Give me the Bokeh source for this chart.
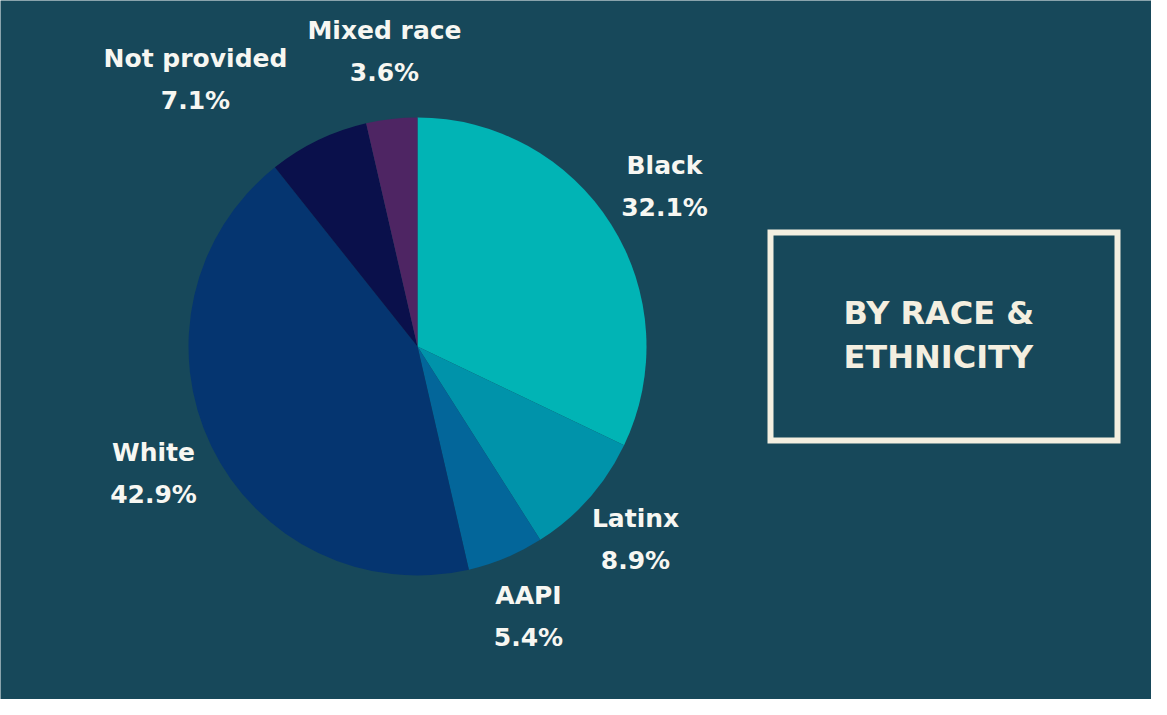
import numpy as np
from bokeh.plotting import figure
from bokeh.models import ColumnDataSource
from bokeh.core.properties import value
from bokeh.embed import file_html
from bokeh.resources import INLINE

# ---- data ----
categories = ["Black", "Latinx", "AAPI", "White", "Not provided", "Mixed race"]
shares = [32.1, 8.9, 5.4, 42.9, 7.1, 3.6]
colors = ["#01B4B5", "#0093AA", "#03669A", "#053570", "#0A104B", "#4E2563"]
title_lines = ["BY RACE &", "ETHNICITY"]

# ---- layout (screen pixels in the 1167x715 window) ----
W, H = 1151, 699
BG = "#17485A"
CREAM = "#F4EFE0"
TEXT = "#F7F7F2"
FONT = "DejaVu Sans"

def sx(X):
    return X - 8

def sy(Y):
    return H - (Y - 8)

pie_cx, pie_cy, pie_r = 425, 354, 229
# label anchor (centre x, first-line centre y) per category
label_pos = {
    "Black": (672, 173),
    "Latinx": (643, 526),
    "AAPI": (536, 603),
    "White": (161, 460),
    "Not provided": (203, 66),
    "Mixed race": (392, 38),
}
line_gap = 42

p = figure(width=W, height=H, x_range=(0, W), y_range=(0, H),
           x_axis_type=None, y_axis_type=None, toolbar_location=None,
           output_backend="svg", min_border=0)
p.background_fill_color = BG
p.border_fill_color = BG
p.outline_line_color = None
p.grid.visible = False

# wedges: start at 12 o'clock, go clockwise
frac = np.array(shares) / sum(shares)
cum = np.concatenate([[0], np.cumsum(frac)])
start = np.pi / 2 - cum[1:] * 2 * np.pi
end = np.pi / 2 - cum[:-1] * 2 * np.pi
src = ColumnDataSource(dict(cat=categories, start=start, end=end, color=colors))
p.wedge(x=sx(pie_cx), y=sy(pie_cy), radius=pie_r, start_angle="start",
        end_angle="end", direction="anticlock", fill_color="color",
        line_color=None, source=src)

# labels
lx, ly1, ly2, t1, t2 = [], [], [], [], []
for c, s in zip(categories, shares):
    X, Y = label_pos[c]
    lx.append(sx(X)); ly1.append(sy(Y)); ly2.append(sy(Y + line_gap))
    t1.append(c); t2.append(f"{s}%")
p.text(x=lx, y=ly1, text=t1, text_font=value(FONT), text_font_style="bold",
       text_font_size="25px", text_color=TEXT, text_align="center",
       text_baseline="middle")
p.text(x=lx, y=ly2, text=t2, text_font=value(FONT), text_font_style="bold",
       text_font_size="25px", text_color=TEXT, text_align="center",
       text_baseline="middle")

# title box
p.quad(left=sx(778), right=sx(1125), top=sy(240), bottom=sy(448),
       fill_color=None, line_color=CREAM, line_width=6, line_join="miter")
p.text(x=[sx(851), sx(851)], y=[sy(320), sy(364)], text=title_lines,
       text_font=value(FONT), text_font_style="bold", text_font_size="32px",
       text_color=CREAM, text_align="left", text_baseline="middle")

open("out.html", "w").write(file_html(p, INLINE))
